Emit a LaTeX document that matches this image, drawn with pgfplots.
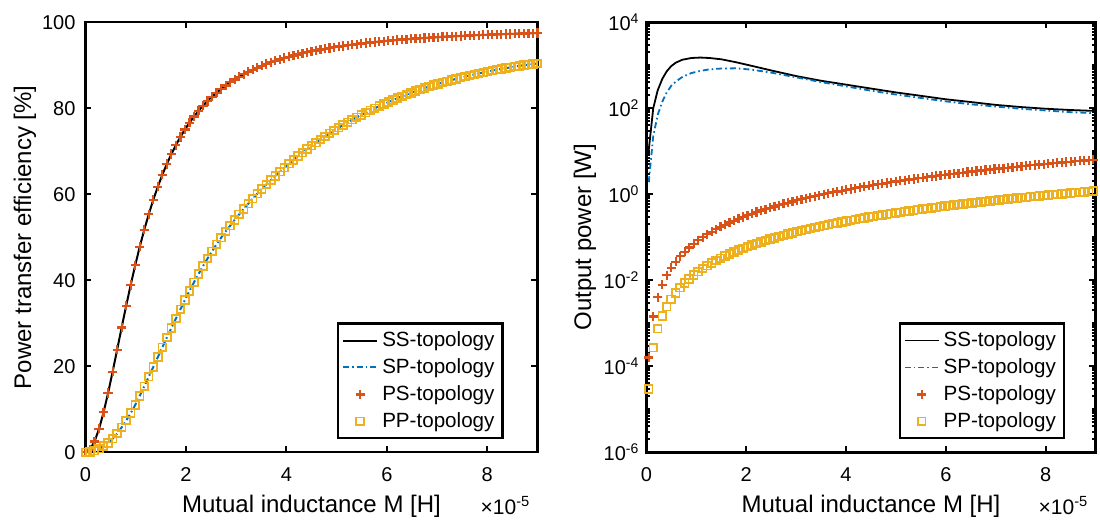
\documentclass[border=0pt]{standalone}
\usepackage{fontspec}
\setmainfont{Liberation Sans}
\usepackage{pgfplots}
\usepackage{pgfplotstable}
\pgfplotsset{compat=1.18}

\definecolor{mblue}{rgb}{0,0.447,0.741}
\definecolor{morange}{rgb}{0.850,0.325,0.098}
\definecolor{myellow}{rgb}{0.929,0.694,0.125}

% minor ticks of the log axis (2..9 in each decade, plus the odd decades)
\def\minlist{1e-5,1e-3,1e-1,1e1,1e3}
\foreach \e in {-6,...,3}{\foreach \m in {2,...,9}{\xdef\minlist{\minlist,\m e\e}}}

% efficiency [%], M in 1e-5 H
\pgfplotstableread[row sep=\\]{
M ss sp\\
0 0 0\\
0.09 0.637 0.11\\
0.18 2.50 0.38\\
0.27 5.46 0.83\\
0.36 9.30 1.42\\
0.45 13.80 2.2\\
0.54 18.73 3.18\\
0.63 23.86 4.37\\
0.72 29.02 5.8\\
0.81 34.08 7.39\\
0.90 38.93 9.1\\
0.99 43.51 10.99\\
1.08 47.79 13.12\\
1.17 51.75 15.35\\
1.26 55.39 17.6\\
1.35 58.72 19.85\\
1.44 61.77 22.12\\
1.53 64.54 24.42\\
1.62 67.06 26.69\\
1.71 69.35 28.9\\
1.80 71.44 31.1\\
1.89 73.34 33.26\\
1.98 75.07 35.42\\
2.07 76.64 37.51\\
2.16 78.08 39.52\\
2.25 79.40 41.45\\
2.34 80.60 43.3\\
2.43 81.71 45.07\\
2.52 82.72 46.76\\
2.61 83.65 48.37\\
2.70 84.51 49.9\\
2.79 85.30 51.34\\
2.88 86.03 52.7\\
2.97 86.71 54.05\\
3.06 87.34 55.34\\
3.15 87.92 56.6\\
3.24 88.47 57.82\\
3.33 88.97 58.99\\
3.42 89.44 60.14\\
3.51 89.88 61.22\\
3.60 90.29 62.3\\
3.69 90.68 63.29\\
3.78 91.04 64.28\\
3.87 91.37 65.27\\
3.96 91.69 66.2\\
4.05 91.99 67.1\\
4.14 92.27 68.0\\
4.23 92.53 68.87\\
4.32 92.78 69.68\\
4.41 93.02 70.49\\
4.50 93.24 71.3\\
4.59 93.46 72.02\\
4.68 93.66 72.74\\
4.77 93.84 73.46\\
4.86 94.02 74.18\\
4.95 94.19 74.85\\
5.04 94.36 75.48\\
5.13 94.51 76.11\\
5.22 94.66 76.74\\
5.31 94.80 77.36\\
5.40 94.93 77.9\\
5.49 95.06 78.44\\
5.58 95.18 78.98\\
5.67 95.30 79.52\\
5.76 95.41 80.0\\
5.85 95.51 80.5\\
5.94 95.61 81.0\\
6.03 95.71 81.45\\
6.12 95.80 81.9\\
6.21 95.89 82.35\\
6.30 95.98 82.8\\
6.39 96.06 83.16\\
6.48 96.14 83.6\\
6.57 96.21 83.98\\
6.66 96.29 84.34\\
6.75 96.36 84.7\\
6.84 96.42 85.06\\
6.93 96.49 85.39\\
7.02 96.55 85.68\\
7.11 96.61 86.03\\
7.20 96.67 86.3\\
7.29 96.73 86.57\\
7.38 96.78 86.84\\
7.47 96.83 87.11\\
7.56 96.88 87.38\\
7.65 96.93 87.65\\
7.74 96.98 87.88\\
7.83 97.02 88.09\\
7.92 97.07 88.34\\
8.01 97.11 88.53\\
8.10 97.15 88.8\\
8.19 97.19 88.98\\
8.28 97.23 89.16\\
8.37 97.26 89.34\\
8.46 97.30 89.52\\
8.55 97.34 89.7\\
8.64 97.37 89.88\\
8.73 97.40 90.03\\
8.82 97.43 90.13\\
8.91 97.47 90.31\\
9.00 97.49 90.4\\
}\effdata

% output power [W], lines
\pgfplotstableread[row sep=\\]{
M ss sp\\
0.045 10.7 1.91\\
0.135 100 22.4\\
0.225 263 70.8\\
0.315 479 141\\
0.405 724 234\\
0.495 955 331\\
0.585 1148 417\\
0.72 1349 537\\
0.9 1479 661\\
1.08 1514 741\\
1.26 1479 804\\
1.5 1380 841\\
1.8 1175 851\\
2.1 977 794\\
2.5 759 676\\
3.0 562 525\\
3.5 437 407\\
4.0 355 324\\
4.5 288 257\\
5.0 234 209\\
5.5 195 174\\
6.0 162 145\\
6.5 140 124\\
7.0 120 110\\
7.5 107 97.7\\
8.0 97.7 89.1\\
8.5 91.2 81.3\\
8.955 87.1 77.6\\
}\powline

% output power [W], marker series
\pgfplotstableread[row sep=\\]{
M ps pp\\
0.045 1.608e-4 2.995e-5\\
0.135 1.447e-3 2.696e-4\\
0.225 4.019e-3 7.488e-4\\
0.315 7.878e-3 1.468e-3\\
0.405 0.01302 2.426e-3\\
0.495 0.01945 3.624e-3\\
0.585 0.02717 5.062e-3\\
0.675 0.03617 6.739e-3\\
0.765 0.04646 8.656e-3\\
0.855 0.05804 0.01081\\
0.945 0.07090 0.01321\\
1.035 0.08505 0.01584\\
1.125 0.1005 0.01872\\
1.215 0.1172 0.02183\\
1.305 0.1352 0.02519\\
1.395 0.1545 0.02878\\
1.485 0.1751 0.03262\\
1.575 0.1970 0.03669\\
1.665 0.2201 0.04100\\
1.755 0.2445 0.04555\\
1.845 0.2703 0.05035\\
1.935 0.2973 0.05538\\
2.025 0.3256 0.06065\\
2.115 0.3552 0.06616\\
2.205 0.3860 0.07191\\
2.295 0.4182 0.07790\\
2.385 0.4516 0.08413\\
2.475 0.4863 0.09060\\
2.565 0.5224 0.09731\\
2.655 0.5597 0.1043\\
2.745 0.5982 0.1114\\
2.835 0.6381 0.1189\\
2.925 0.6793 0.1265\\
3.015 0.7217 0.1344\\
3.105 0.7655 0.1426\\
3.195 0.8105 0.1510\\
3.285 0.8568 0.1596\\
3.375 0.9044 0.1685\\
3.465 0.9532 0.1776\\
3.555 1.003 0.1869\\
3.645 1.055 0.1965\\
3.735 1.108 0.2063\\
3.825 1.162 0.2164\\
3.915 1.217 0.2267\\
4.005 1.274 0.2372\\
4.095 1.331 0.2480\\
4.185 1.391 0.2590\\
4.275 1.451 0.2703\\
4.365 1.513 0.2818\\
4.455 1.576 0.2935\\
4.545 1.640 0.3055\\
4.635 1.706 0.3177\\
4.725 1.773 0.3302\\
4.815 1.841 0.3429\\
4.905 1.910 0.3558\\
4.995 1.981 0.3690\\
5.085 2.053 0.3824\\
5.175 2.126 0.3961\\
5.265 2.201 0.4100\\
5.355 2.277 0.4241\\
5.445 2.354 0.4385\\
5.535 2.432 0.4531\\
5.625 2.512 0.4680\\
5.715 2.593 0.4831\\
5.805 2.676 0.4984\\
5.895 2.759 0.5140\\
5.985 2.844 0.5298\\
6.075 2.930 0.5458\\
6.165 3.018 0.5621\\
6.255 3.106 0.5787\\
6.345 3.196 0.5954\\
6.435 3.288 0.6124\\
6.525 3.380 0.6297\\
6.615 3.474 0.6472\\
6.705 3.569 0.6649\\
6.795 3.666 0.6829\\
6.885 3.764 0.7011\\
6.975 3.863 0.7195\\
7.065 3.963 0.7382\\
7.155 4.065 0.7572\\
7.245 4.168 0.7763\\
7.335 4.272 0.7957\\
7.425 4.377 0.8154\\
7.515 4.484 0.8353\\
7.605 4.592 0.8554\\
7.695 4.701 0.8758\\
7.785 4.812 0.8964\\
7.875 4.924 0.9172\\
7.965 5.037 0.9383\\
8.055 5.151 0.9596\\
8.145 5.267 0.9812\\
8.235 5.384 1.003\\
8.325 5.503 1.025\\
8.415 5.622 1.047\\
8.505 5.743 1.070\\
8.595 5.865 1.093\\
8.685 5.989 1.116\\
8.775 6.114 1.139\\
8.865 6.240 1.162\\
8.955 6.367 1.186\\
}\powmark

\pgfplotsset{
  matfig/.style={
    scale only axis, height=215pt,
    xmin=0, xmax=9, xtick={0,2,4,6,8},
    axis line style={line width=1.2pt},
    tick style={black, line width=1pt},
    major tick length=3pt, minor tick length=1.8pt,
    tick align=inside,
    tick label style={font=\fontsize{10}{11}\selectfont},
    xticklabel style={yshift=-4pt},
    label style={font=\fontsize{12}{14}\selectfont},
    /pgf/number format/assume math mode=true,
    xlabel={Mutual inductance M [H]},
    xlabel style={at={(axis description cs:0.5,-0.1407)},anchor=base},
    legend style={font=\fontsize{10.3}{12}\selectfont, draw=black, line width=1.1pt,
      anchor=south east, inner sep=2pt, row sep=0.5pt},
    legend cell align=left,
    clip=false,
  }
}

\begin{document}
\begin{tikzpicture}
\useasboundingbox (-42.75pt,-33.75pt) rectangle (507.25pt,226.15pt);

\begin{axis}[matfig, width=226pt,
  ymin=0, ymax=100, ytick={0,20,40,60,80,100},
  yticklabel style={xshift=-1.5pt},
  ylabel={Power transfer efficiency [\%]},
  ylabel style={at={(axis description cs:-0.134,0.5)},anchor=center},
  legend style={at={(0.925,0.03)}}]
\addplot[black, line width=1pt] table[x=M,y=ss]{\effdata};
\addlegendentry{SS-topology}
\addplot[mblue, line width=1pt, dash pattern=on 3pt off 1.5pt on 0.8pt off 1.5pt] table[x=M,y=sp]{\effdata};
\addlegendentry{SP-topology}
\addplot[morange, only marks, mark=+, mark size=2.3pt, mark options={line width=1.1pt}] table[x=M,y=ss]{\effdata};
\addlegendentry{PS-topology}
\addplot[myellow, only marks, mark=square, mark size=1.9pt, mark options={line width=0.9pt}] table[x=M,y=sp]{\effdata};
\addlegendentry{PP-topology}
\node[anchor=base east, yshift=-31pt, font=\fontsize{10.5}{12}\selectfont] at (rel axis cs:1,0) {×10\textsuperscript{-5}};
\end{axis}

\begin{axis}[matfig, at={(280.5pt,0pt)}, width=224.5pt,
  ymode=log, ymin=1e-6, ymax=1e4,
  ytick={1e-6,1e-4,1e-2,1,1e2,1e4},
  yticklabels={10\textsuperscript{-6},10\textsuperscript{-4},10\textsuperscript{-2},10\textsuperscript{0},10\textsuperscript{2},10\textsuperscript{4}},
  minor ytick/.expand once=\minlist,
  ylabel={Output power [W]},
  ylabel style={at={(axis description cs:-0.137,0.5)},anchor=center},
  legend style={at={(0.932,0.03)}}]
\addplot[black, line width=0.9pt] table[x=M,y=ss]{\powline};
\addlegendentry{SS-topology}
\addplot[mblue, line width=0.9pt, dash pattern=on 3pt off 1.5pt on 0.8pt off 1.5pt] table[x=M,y=sp]{\powline};
\addlegendentry{SP-topology}
\addplot[morange, only marks, mark=+, mark size=2.3pt, mark options={line width=1.1pt}] table[x=M,y=ps]{\powmark};
\addlegendentry{PS-topology}
\addplot[myellow, only marks, mark=square, mark size=1.9pt, mark options={line width=0.9pt}] table[x=M,y=pp]{\powmark};
\addlegendentry{PP-topology}
\node[anchor=base east, yshift=-31pt, font=\fontsize{10.5}{12}\selectfont] at (rel axis cs:1,0) {×10\textsuperscript{-5}};
\end{axis}
\end{tikzpicture}
\end{document}
